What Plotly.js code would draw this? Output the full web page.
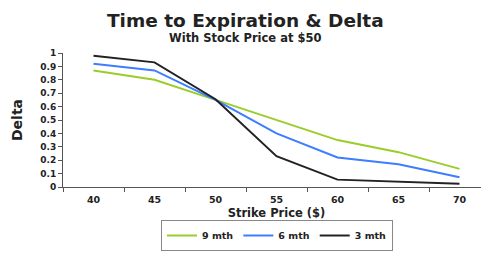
<!DOCTYPE html>
<html><head><meta charset="utf-8">
<script src="https://cdn.plot.ly/plotly-3.0.1.min.js"></script>
<style>html,body{margin:0;padding:0;overflow:hidden;background:#fff;width:481px;height:254px}#c{width:490px;height:254px}</style>
</head><body><div id="c"></div>
<script>
const strikes = ['40','45','50','55','60','65','70'];
const delta9 = [0.87, 0.80, 0.65, 0.50, 0.35, 0.26, 0.135];
const delta6 = [0.92, 0.87, 0.65, 0.40, 0.22, 0.17, 0.072];
const delta3 = [0.98, 0.93, 0.655, 0.23, 0.055, 0.04, 0.025];
const names = ['9 mth', '6 mth', '3 mth'];
const colors = ['#9acd2a', '#3d7dff', '#222222'];
const F = '"DejaVu Sans", Arial, sans-serif';
const traces = [delta9, delta6, delta3].map((d, i) => ({
  x: strikes, y: d, name: names[i], type: 'scatter', mode: 'lines',
  line: {color: colors[i], width: 2}
}));
const layout = {
  width: 490, height: 254,
  margin: {l: 63, r: 0, t: 53, b: 67},
  paper_bgcolor: '#fff', plot_bgcolor: '#fff',
  showlegend: true,
  legend: {orientation: 'h', x: 277/490, xanchor: 'center', xref: 'container', y: 3/254, yanchor: 'bottom', yref: 'container',
    bordercolor: '#888', borderwidth: 1, font: {family: F, size: 9.5, weight: 'bold', color: '#222'},
    itemwidth: 30, tracegroupgap: 0},
  xaxis: {type: 'category', range: [-0.5, 6.5], tickson: 'boundaries', ticks: 'outside', ticklen: 4, automargin: false,
    ticklabelstandoff: 4,
    tickcolor: '#555', showline: true, linecolor: '#555', linewidth: 1, showgrid: false, zeroline: false,
    tickfont: {family: F, size: 9.5, weight: 'bold', color: '#222'},
    title: {text: 'Strike Price ($)', font: {family: F, size: 11.5, weight: 'bold', color: '#222'}, standoff: 10}},
  yaxis: {range: [0, 1], dtick: 0.1, ticks: 'outside', ticklen: 4, tickcolor: '#555', automargin: false,
    showline: true, linecolor: '#555', linewidth: 1, showgrid: false, zeroline: false,
    tickfont: {family: F, size: 9, weight: 'bold', color: '#222'},
    title: {text: 'Delta', font: {family: F, size: 14, weight: 'bold', color: '#222'}, standoff: 14}},
  annotations: [
    {text: 'Time to Expiration & Delta', xref: 'paper', yref: 'paper', x: 0.427, y: 1, xanchor: 'center', yanchor: 'bottom',
      yshift: 20, showarrow: false, font: {family: F, size: 18.5, weight: 'bold', color: '#222'}},
    {text: 'With Stock Price at $50', xref: 'paper', yref: 'paper', x: 0.427, y: 1, xanchor: 'center', yanchor: 'bottom',
      yshift: 6, showarrow: false, font: {family: F, size: 11.5, weight: 'bold', color: '#222'}}
  ]
};
Plotly.newPlot('c', traces, layout, {displayModeBar: false, staticPlot: true});
</script></body></html>
